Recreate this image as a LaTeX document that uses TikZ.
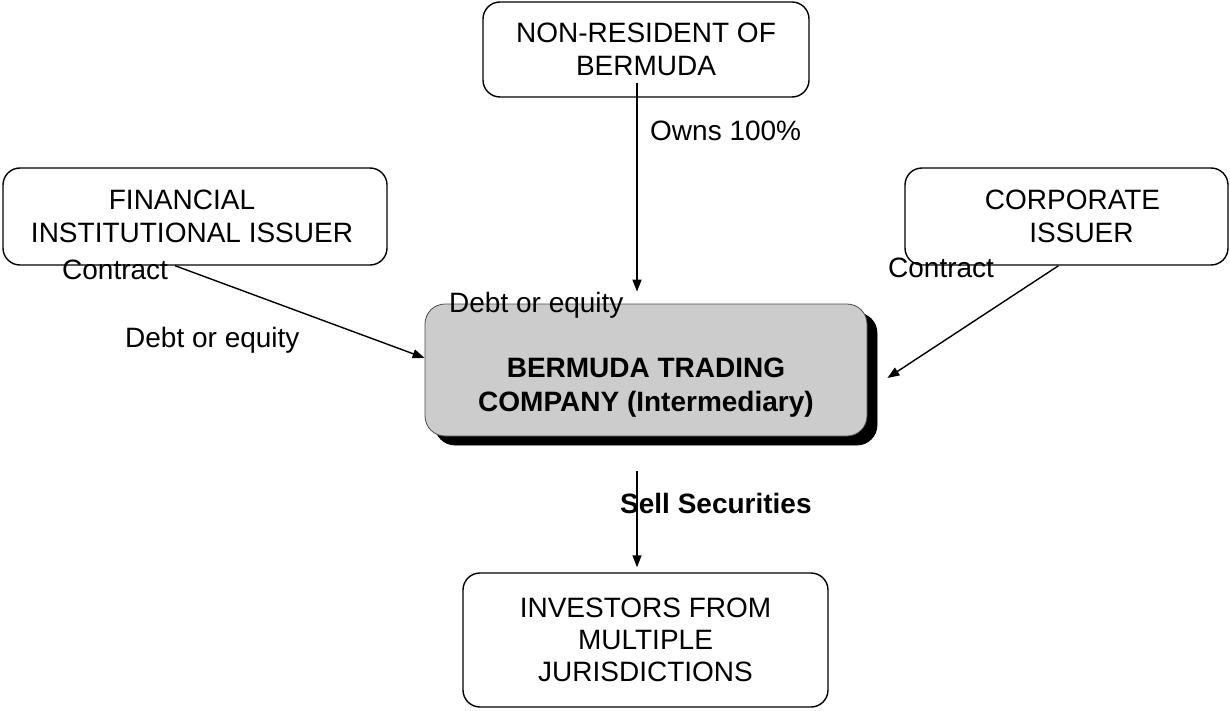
\documentclass[tikz,border=0pt]{standalone}
\usepackage{fontspec}
\setmainfont{Liberation Sans}
\usetikzlibrary{arrows.meta,shadows}
\begin{document}
\begin{tikzpicture}[x=1pt,y=-1pt,
  box/.style={draw=black, line width=1.4pt, rounded corners=17pt, inner sep=0pt, align=center, font=\fontsize{28}{33}\selectfont},
  arr/.style={line width=1.4pt, -{Triangle[length=12pt,width=9pt]}},
  lbl/.style={inner sep=0pt, anchor=base west, font=\fontsize{28}{33}\selectfont},
]
\useasboundingbox (0,0) rectangle (1230,711);
\node[box, minimum width=326pt, minimum height=95pt] (nonres) at (646,49.5) {NON-RESIDENT OF\\BERMUDA};
\node[box, minimum width=384pt, minimum height=97pt] (fin) at (195,216.5) {FINANCIAL\hspace*{26pt}\\INSTITUTIONAL ISSUER\hspace*{6pt}};
\node[box, minimum width=323pt, minimum height=97pt] (corp) at (1066.5,216.5) {\hspace*{12pt}CORPORATE\\\hspace*{30pt}ISSUER};
\node[draw=black!70, line width=0.8pt, fill=black!20, rounded corners=20pt, minimum width=442pt, minimum height=132pt,
  copy shadow={shadow xshift=10pt, shadow yshift=-9pt, fill=black, draw=black}] (btc) at (646,370) {};
\node[font=\bfseries\fontsize{28}{34}\selectfont, align=center, inner sep=0pt] (btctext) at (646,388) {BERMUDA TRADING\\COMPANY (Intermediary)};
\node[box, minimum width=365pt, minimum height=134pt, font=\fontsize{28}{32}\selectfont] (inv) at (645.5,640) {INVESTORS FROM\\MULTIPLE\\JURISDICTIONS};

\draw[arr] ([xshift=-9pt,yshift=15pt]nonres.south) -- ([xshift=-9pt,yshift=12pt]btc.north);
\draw[arr] ([xshift=-20pt]fin.south) -- ([yshift=12pt]btc.west);
\draw[arr] ([xshift=-8pt]corp.south) -- ([xshift=20pt,yshift=-8pt]btc.east);
\draw[arr] ([xshift=-9pt,yshift=-35pt]btc.south) -- ([xshift=-8.5pt,yshift=5pt]inv.north);

\node[lbl] (owns) at (650,141) {Owns 100\%};
\node[lbl] (c1) at (62,279) {Contract};
\node[lbl] (d1) at (125,347) {Debt or equity};
\node[lbl] (d2) at (449,312) {Debt or equity};
\node[lbl] (c2) at (888,277) {Contract};
\node[lbl, font=\bfseries\fontsize{28}{33}\selectfont] (sell) at (620,513) {Sell Securities};
\end{tikzpicture}
\end{document}
